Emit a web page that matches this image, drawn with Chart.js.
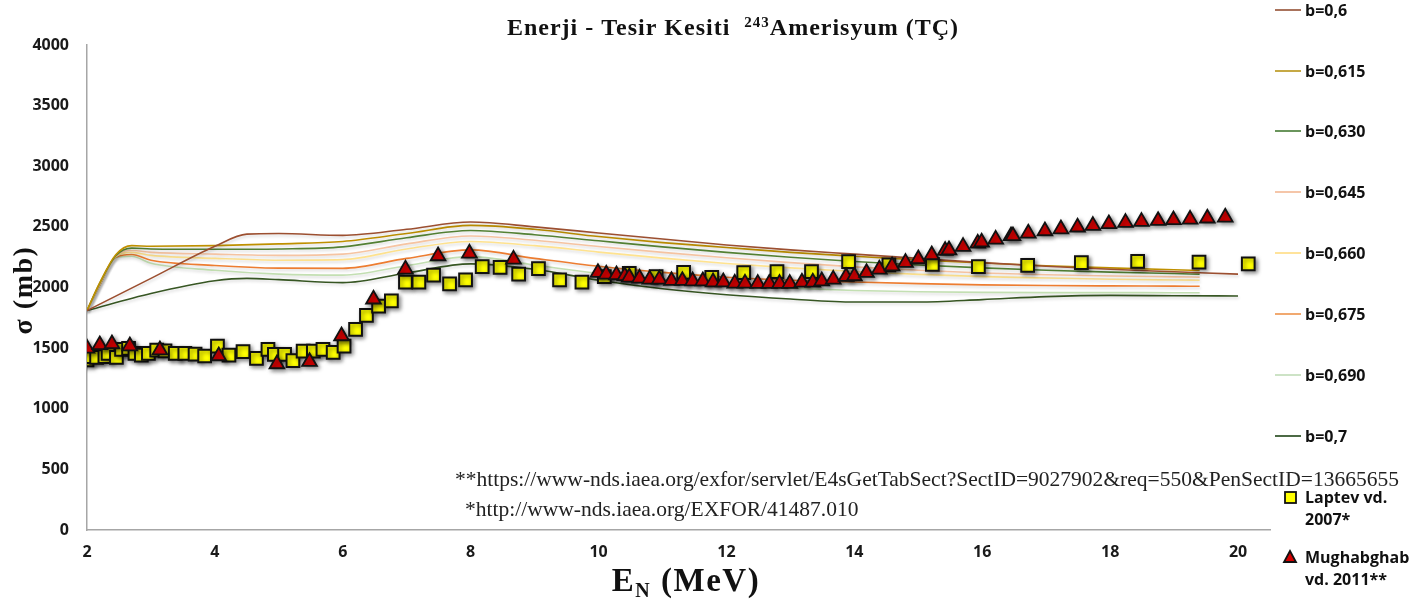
<!DOCTYPE html>
<html><head><meta charset="utf-8">
<script src="https://cdn.jsdelivr.net/npm/chart.js@4.4.0/dist/chart.umd.min.js"></script>
<style>html,body{margin:0;padding:0;background:#fff;}#wrap{width:1427px;height:600px;position:relative;}</style>
</head><body><div id="wrap"><canvas id="c" width="1427" height="600"></canvas></div>
<script>
// ---- data ----
const curveLabels = ['b=0,6','b=0,615','b=0,630','b=0,645','b=0,660','b=0,675','b=0,690','b=0,7'];
const outerE = [2,3,4,4.5,5,6,7,8,9,10,11,12,13,14,15,16,17,18,19,20];
const innerE = [2,2.2,2.45,2.7,3,4,5,6,7,8,9,10,11,12,13,14,15,16,17,18,19,19.4];
const b600 = [1810,2075,2340,2440,2445,2430,2480,2540,2500,2450,2400,2350,2310,2275,2240,2205,2175,2150,2130,2110];
const b615 = [1810,2040,2270,2345,2340,2345,2360,2380,2445,2512,2480,2420,2370,2330,2290,2258,2228,2202,2180,2162,2146,2140];
const b630 = [1810,2035,2262,2325,2318,2315,2318,2335,2410,2470,2435,2385,2335,2290,2250,2215,2185,2162,2142,2127,2115,2110];
const b645 = [1810,2030,2258,2305,2290,2275,2265,2275,2360,2425,2390,2338,2290,2245,2205,2170,2142,2120,2105,2095,2088,2085];
const b660 = [1810,2028,2255,2290,2265,2240,2225,2230,2318,2380,2345,2292,2242,2198,2162,2132,2108,2090,2078,2068,2062,2060];
const b675 = [1810,2022,2250,2272,2225,2182,2160,2158,2240,2310,2240,2175,2125,2085,2060,2045,2032,2022,2016,2013,2011,2010];
const b690 = [1810,2018,2245,2258,2200,2142,2110,2102,2180,2255,2185,2115,2065,2025,1995,1975,1965,1960,1958,1958,1957,1957];
const b700 = [1810,1950,2055,2075,2065,2040,2120,2195,2150,2060,1990,1940,1905,1880,1880,1900,1925,1935,1932,1930];

const laptevE = [2.0,2.05,2.15,2.28,2.33,2.46,2.54,2.65,2.75,2.85,2.96,3.09,3.22,3.38,3.53,3.69,3.84,4.04,4.22,4.44,4.65,4.83,4.93,5.09,5.22,5.38,5.54,5.69,5.85,6.02,6.2,6.37,6.56,6.76,6.98,7.19,7.42,7.67,7.92,8.18,8.46,8.75,9.06,9.39,9.74,10.09,10.48,10.9,11.33,11.77,12.27,12.79,13.33,13.91,14.54,15.22,15.94,16.71,17.55,18.43,19.39,20.16];
const laptevS = [1402,1429,1424,1429,1457,1424,1490,1498,1457,1443,1457,1484,1478,1457,1457,1451,1435,1517,1443,1471,1416,1490,1449,1449,1396,1476,1476,1490,1465,1517,1655,1771,1847,1889,2045,2045,2103,2029,2062,2172,2166,2111,2155,2062,2045,2089,2117,2089,2124,2084,2122,2131,2131,2213,2186,2191,2172,2183,2205,2216,2210,2194];
const mughE = [2.0,2.2,2.39,2.67,3.14,4.06,4.97,5.48,5.98,6.48,6.98,7.49,7.98,8.67,9.99,10.12,10.28,10.41,10.48,10.64,10.8,10.95,11.14,11.31,11.47,11.63,11.79,11.95,12.13,12.29,12.49,12.67,12.83,12.99,13.18,13.35,13.49,13.67,13.87,14.0,14.19,14.39,14.59,14.8,15.0,15.21,15.42,15.48,15.7,15.93,15.99,16.21,16.45,16.48,16.72,16.98,17.23,17.49,17.73,17.98,18.24,18.49,18.75,18.99,19.25,19.52,19.8];
const mughS = [1498,1526,1534,1517,1484,1435,1369,1388,1600,1903,2150,2260,2282,2232,2122,2109,2103,2095,2084,2076,2067,2067,2056,2056,2053,2053,2045,2045,2034,2034,2032,2032,2032,2032,2043,2043,2053,2067,2089,2095,2122,2150,2177,2205,2235,2268,2304,2309,2337,2364,2373,2397,2425,2425,2447,2466,2482,2497,2510,2524,2535,2543,2551,2557,2562,2571,2579];

const xTicks = [2,4,6,8,10,12,14,16,18,20];
const yTicks = [0,500,1000,1500,2000,2500,3000,3500,4000];

const titleMain = 'Enerji - Tesir Kesiti  ';
const titleSup = '243';
const titleEnd = 'Amerisyum (TÇ)';
const note1 = '**https://www-nds.iaea.org/exfor/servlet/E4sGetTabSect?SectID=9027902&req=550&PenSectID=13665655';
const note2 = '*http://www-nds.iaea.org/EXFOR/41487.010';
const laptevLabel = ['Laptev vd.','2007*'];
const mughLabel = ['Mughabghab','vd. 2011**'];

// ---- build ----
const curveVals = [b600,b615,b630,b645,b660,b675,b690,b700];
const curveXs = [outerE,innerE,innerE,innerE,innerE,innerE,innerE,outerE];
const curveColors = ['#9c4f30','#bf9000','#548235','#f6c4a2','#ffe38f','#ed7d31','#c3dfb2','#375623'];
const legendColors = ['#a0644a','#c0a030','#5a8a4a','#f4c0a0','#ffe090','#f0a060','#c8e0c0','#385a30'];
const pairs = (xs, ys) => xs.map((x,i)=>({x, y: ys[i]}));

const datasets = [
  {label: mughLabel.join(' '), data: pairs(mughE, mughS), pointStyle:'triangle', pointRadius:8.5, backgroundColor:'#d40000', borderColor:'#111', borderWidth:1.8, showLine:false, kind:'pt'},
  {label: laptevLabel.join(' '), data: pairs(laptevE, laptevS), pointStyle:'rect', pointRadius:9, backgroundColor:'#ffff00', borderColor:'#111', borderWidth:2, showLine:false, kind:'pt'}
];
curveVals.forEach((v,i)=>{
  datasets.push({label: curveLabels[i], data: pairs(curveXs[i], v), showLine:true, borderColor: curveColors[i], borderWidth:1.6, pointRadius:0, cubicInterpolationMode:'monotone', fill:false, kind:'line'});
});

const shadowPlugin = {
  id:'shadow',
  beforeDatasetDraw(chart, args){
    const ctx = chart.ctx; ctx.save();
    const ds = chart.data.datasets[args.index];
    if (ds.kind === 'line') { ctx.shadowColor='rgba(0,0,0,0.16)'; ctx.shadowBlur=3; ctx.shadowOffsetX=1; ctx.shadowOffsetY=2; }
    else { ctx.shadowColor='rgba(0,0,0,0.45)'; ctx.shadowBlur=4; ctx.shadowOffsetX=2; ctx.shadowOffsetY=2; }
  },
  afterDatasetDraw(chart){ chart.ctx.restore(); }
};

function fitFont(ctx, text, width, family, weight){
  ctx.font = `${weight} 20px ${family}`;
  const w = ctx.measureText(text).width;
  return 20 * width / w;
}

const decorPlugin = {
  id:'decor',
  afterDraw(chart){
    const ctx = chart.ctx;
    ctx.save();
    ctx.fillStyle = '#111';
    // title
    ctx.letterSpacing = '1px';
    const fMain = 'bold 24px "Liberation Serif"', fSup = 'bold 15px "Liberation Serif"';
    ctx.font = fMain; const w1 = ctx.measureText(titleMain).width, w3 = ctx.measureText(titleEnd).width;
    ctx.font = fSup; const w2 = ctx.measureText(titleSup).width;
    let x = 733 - (w1+w2+w3)/2;
    ctx.textBaseline = 'alphabetic'; ctx.textAlign='left';
    ctx.font = fMain; ctx.fillText(titleMain, x, 35); x += w1;
    ctx.font = fSup; ctx.fillText(titleSup, x, 27); x += w2;
    ctx.font = fMain; ctx.fillText(titleEnd, x, 35);
    // y title
    ctx.save();
    ctx.letterSpacing = '1.5px';
    ctx.translate(32, 290); ctx.rotate(-Math.PI/2);
    ctx.font = 'bold 28px "Liberation Serif"'; ctx.textAlign='center'; ctx.textBaseline='alphabetic';
    ctx.fillText('σ (mb)', 0, 0);
    ctx.restore();
    // x title
    ctx.letterSpacing = '1.5px';
    const fx = 'bold 33px "Liberation Serif"', fs = 'bold 20px "Liberation Serif"';
    ctx.font = fx; const e1 = ctx.measureText('E').width, e3 = ctx.measureText(' (MeV)').width;
    ctx.font = fs; const e2 = ctx.measureText('N').width;
    let xx = 686 - (e1+e2+e3)/2;
    ctx.textAlign='left';
    ctx.font = fx; ctx.fillText('E', xx, 591); xx += e1;
    ctx.font = fs; ctx.fillText('N', xx, 597); xx += e2;
    ctx.font = fx; ctx.fillText(' (MeV)', xx, 591);
    ctx.letterSpacing = '0px';
    // notes
    const sz = fitFont(ctx, note1, 945, '"Liberation Serif"', 'normal');
    ctx.font = `normal ${sz}px "Liberation Serif"`; ctx.fillStyle = '#222';
    ctx.textBaseline='middle';
    ctx.fillText(note1, 455, 480);
    ctx.fillText(note2, 465, 510);
    // legend
    ctx.fillStyle = '#111';
    ctx.font = 'bold 16px "Open Sans"';
    const ys = [10,71,131,192,253,314,375,436];
    curveLabels.forEach((lab,i)=>{
      ctx.strokeStyle = legendColors[i]; ctx.lineWidth = 1.8;
      ctx.beginPath(); ctx.moveTo(1275, ys[i]); ctx.lineTo(1301, ys[i]); ctx.stroke();
      ctx.fillText(lab, 1305, ys[i]+1);
    });
    // point legend
    ctx.fillStyle='#ffff00'; ctx.strokeStyle='#111'; ctx.lineWidth=1.8;
    ctx.fillRect(1285,492,11,11); ctx.strokeRect(1285,492,11,11);
    ctx.fillStyle='#111';
    ctx.fillText(laptevLabel[0], 1305, 498); ctx.fillText(laptevLabel[1], 1305, 520);
    ctx.fillStyle='#d40000';
    ctx.beginPath(); ctx.moveTo(1290,551); ctx.lineTo(1296,562); ctx.lineTo(1284,562); ctx.closePath(); ctx.fill(); ctx.stroke();
    ctx.fillStyle='#111';
    ctx.fillText(mughLabel[0], 1305, 558); ctx.fillText(mughLabel[1], 1305, 580);
    ctx.restore();
  }
};

const tickFont = {family:'"Open Sans"', weight:'bold', size:16};
new Chart(document.getElementById('c').getContext('2d'), {
  type:'scatter',
  data:{datasets},
  options:{
    responsive:false, animation:false, devicePixelRatio:1,
    layout:{padding:{left:0, right:157, top:45, bottom:0}},
    plugins:{legend:{display:false}, title:{display:false}, tooltip:{enabled:false}},
    scales:{
      x:{type:'linear', min:2, max:20.5,
        afterBuildTicks:(s)=>{ s.ticks = xTicks.map(v=>({value:v})); },
        ticks:{padding:13, font:tickFont, color:'#1a1a1a', maxRotation:0, callback:(v)=>String(v)},
        grid:{display:false, drawTicks:false},
        border:{display:true, color:'#a6a6a6', width:1.5},
        afterFit:(s)=>{ s.height = 70; }
      },
      y:{type:'linear', min:0, max:4000,
        afterBuildTicks:(s)=>{ s.ticks = yTicks.map(v=>({value:v})); },
        ticks:{padding:18, font:tickFont, color:'#1a1a1a', callback:(v)=>String(v)},
        grid:{display:false, drawTicks:false},
        border:{display:true, color:'#a6a6a6', width:1.5},
        afterFit:(s)=>{ s.width = 87; }
      }
    }
  },
  plugins:[shadowPlugin, decorPlugin]
});
</script></body></html>
